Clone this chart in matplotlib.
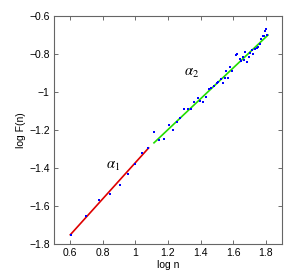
import matplotlib
matplotlib.use("Agg")
import matplotlib.pyplot as plt
import numpy as np

plt.rcParams['font.family'] = ['Liberation Sans', 'DejaVu Sans']
plt.rcParams['mathtext.fontset'] = 'stix'

# Short-range data (alpha_1)
x1 = [0.602, 0.699, 0.778, 0.845, 0.903, 0.954, 1.000, 1.041, 1.079]
y1 = [-1.751, -1.653, -1.570, -1.539, -1.488, -1.432, -1.379, -1.319, -1.296]

# Long-range data (alpha_2)
x2 = [1.114, 1.147, 1.177, 1.204, 1.229, 1.253, 1.276, 1.301, 1.323, 1.344,
      1.362, 1.383, 1.399, 1.416, 1.432, 1.449, 1.465, 1.481, 1.498, 1.510,
      1.523, 1.535, 1.549, 1.557, 1.570, 1.582, 1.590, 1.615, 1.623, 1.642,
      1.650, 1.658, 1.666, 1.675, 1.685, 1.697, 1.705, 1.716, 1.724, 1.734,
      1.744, 1.751, 1.763, 1.773, 1.781, 1.792, 1.798, 1.804, 1.808]
y2 = [-1.209, -1.253, -1.246, -1.174, -1.202, -1.160, -1.139, -1.089, -1.089, -1.089,
      -1.051, -1.032, -1.047, -1.051, -1.026, -0.986, -0.981, -0.967, -0.954, -0.947,
      -0.932, -0.953, -0.925, -0.893, -0.926, -0.868, -0.893, -0.805, -0.803, -0.826,
      -0.839, -0.816, -0.835, -0.793, -0.844, -0.819, -0.798, -0.781, -0.802, -0.777,
      -0.768, -0.763, -0.749, -0.725, -0.707, -0.707, -0.682, -0.672, -0.703]

# Fit line endpoints
fit1_x = [0.600, 1.081]
fit1_y = [-1.751, -1.295]
fit2_x = [1.114, 1.814]
fit2_y = [-1.268, -0.702]

xticks = [0.6, 0.8, 1.0, 1.2, 1.4, 1.6, 1.8]
xticklabels = ['0.6', '0.8', '1', '1.2', '1.4', '1.6', '1.8']
yticks = [-1.8, -1.6, -1.4, -1.2, -1.0, -0.8, -0.6]
yticklabels = ['\u22121.8', '\u22121.6', '\u22121.4', '\u22121.2', '\u22121', '\u22120.8', '\u22120.6']

fig = plt.figure(figsize=(3.0, 2.79), dpi=100)
ax = fig.add_axes([0.18, 0.125, 0.76, 0.819])

ax.plot(fit1_x, fit1_y, color='#dd0000', lw=1.2, zorder=2)
ax.plot(fit2_x, fit2_y, color='#22dd00', lw=1.2, zorder=2)
ax.plot(x1, y1, 's', color='#0000ff', ms=1.6, mew=0, zorder=3)
ax.plot(x2, y2, 's', color='#0000ff', ms=1.6, mew=0, zorder=3)

ax.set_xlim(0.5, 1.9)
ax.set_ylim(-1.8, -0.6)
ax.set_xticks(xticks)
ax.set_xticklabels(xticklabels)
ax.set_yticks(yticks)
ax.set_yticklabels(yticklabels)
ax.tick_params(direction='in', length=3, width=0.6, labelsize=7.5,
               top=True, right=True, pad=3, color='#555555')
for s in ax.spines.values():
    s.set_color('#666666')
    s.set_linewidth(0.8)

ax.set_xlabel('log n', fontsize=7.5, labelpad=1)
ax.set_ylabel('log F(n)', fontsize=7.5, labelpad=2)

ax.text(0.82, -1.39, r'$\alpha_1$', fontsize=10.5, ha='left', va='center')
ax.text(1.30, -0.90, r'$\alpha_2$', fontsize=10.5, ha='left', va='center')

fig.savefig('out.png', dpi=100)
